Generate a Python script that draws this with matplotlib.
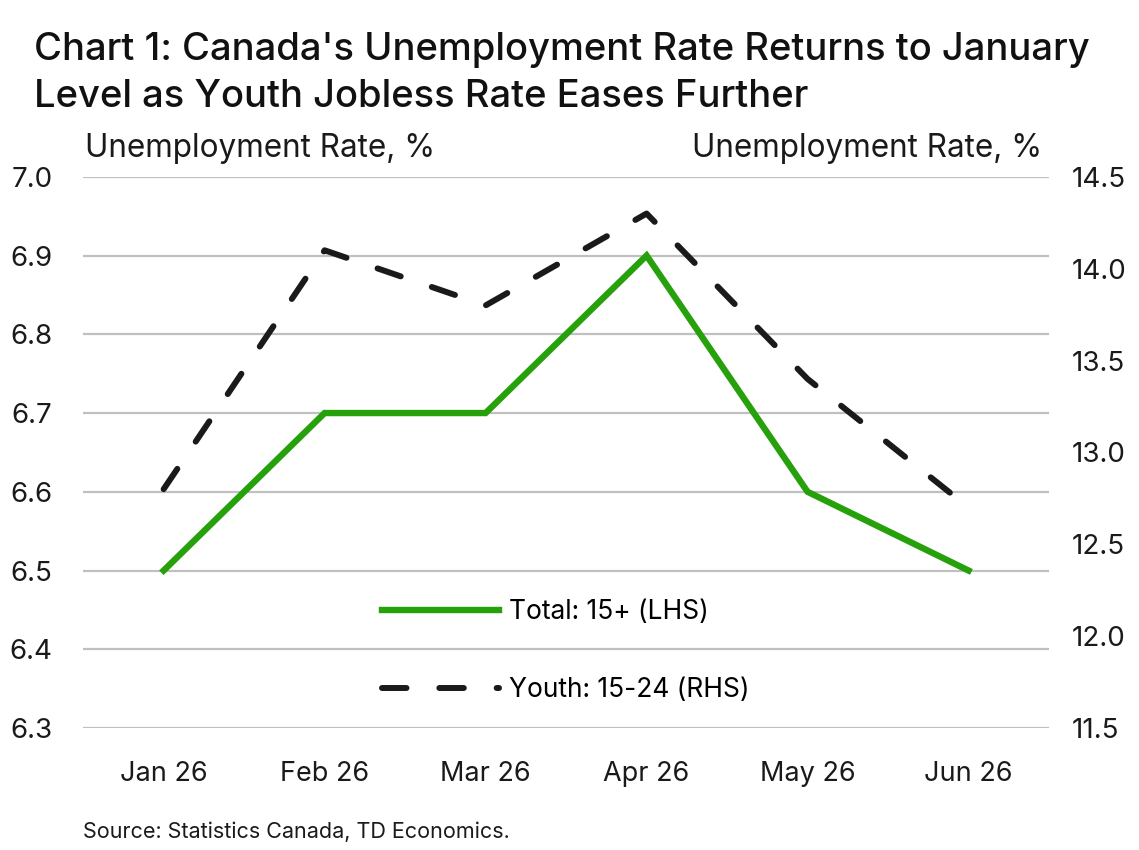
import matplotlib.pyplot as plt

# --- data ---
months = ["Jan 26", "Feb 26", "Mar 26", "Apr 26", "May 26", "Jun 26"]
total_rate = [6.5, 6.7, 6.7, 6.9, 6.6, 6.5]
youth_rate = [12.8, 14.1, 13.8, 14.3, 13.4, 12.7]

left_ticks = [6.3, 6.4, 6.5, 6.6, 6.7, 6.8, 6.9, 7.0]
right_ticks = [11.5, 12.0, 12.5, 13.0, 13.5, 14.0, 14.5]

plt.rcParams['font.family'] = ['Inter', 'DejaVu Sans']

fig = plt.figure(figsize=(11.39, 8.5), dpi=100)
ax = fig.add_axes([0.073, 0.1435, 0.848, 0.6485])
ax2 = ax.twinx()

x = range(len(months))
l1, = ax.plot(x, total_rate, color='#27a10b', lw=4.6, solid_joinstyle='miter',
              label="Total: 15+ (LHS)", zorder=3)
l2, = ax2.plot(x, youth_rate, color='#1a1a1a', lw=4.3, dashes=(4.1, 5.5),
               dash_capstyle='round', label="Youth: 15-24 (RHS)", zorder=3)

ax.set_xlim(-0.5, len(months) - 0.5)
ax.set_ylim(6.3, 7.0)
ax2.set_ylim(11.5, 14.5)
ax.set_yticks(left_ticks)
ax.set_yticklabels([f"{v:.1f}" for v in left_ticks])
ax2.set_yticks(right_ticks)
ax2.set_yticklabels([f"{v:.1f}" for v in right_ticks])
ax.set_xticks(list(x))
ax.set_xticklabels(months)

ax.grid(axis='y', color='#c0c0c0', lw=1.6)
ax.set_axisbelow(True)
for a in (ax, ax2):
    for s in a.spines.values():
        s.set_visible(False)
ax.tick_params(axis='y', length=0, pad=22, labelsize=20, labelcolor='#1a1a1a')
ax.tick_params(axis='x', length=0, pad=24, labelsize=19.5, labelcolor='#1a1a1a')
ax2.tick_params(axis='y', length=0, pad=16, labelsize=20, labelcolor='#1a1a1a')

leg = ax.legend(handles=[l1, l2], loc='center', bbox_to_anchor=(0.5, 0.14),
                frameon=False, fontsize=19, handlelength=4.4, handletextpad=0.4,
                labelspacing=1.97)

fig.text(0.03, 0.962, "Chart 1: Canada's Unemployment Rate Returns to January\n"
         "Level as Youth Jobless Rate Eases Further",
         fontsize=27.5, fontweight='medium', va='top', ha='left', linespacing=1.38,
         color='#111111')
fig.text(0.075, 0.825, "Unemployment Rate, %", fontsize=22.7, ha='left', va='center',
         color='#1a1a1a')
fig.text(0.915, 0.825, "Unemployment Rate, %", fontsize=22.7, ha='right', va='center',
         color='#1a1a1a')
fig.text(0.073, 0.022, "Source: Statistics Canada, TD Economics.", fontsize=15.5,
         ha='left', va='center', color='#1a1a1a')

fig.savefig("out.png", dpi=100)
